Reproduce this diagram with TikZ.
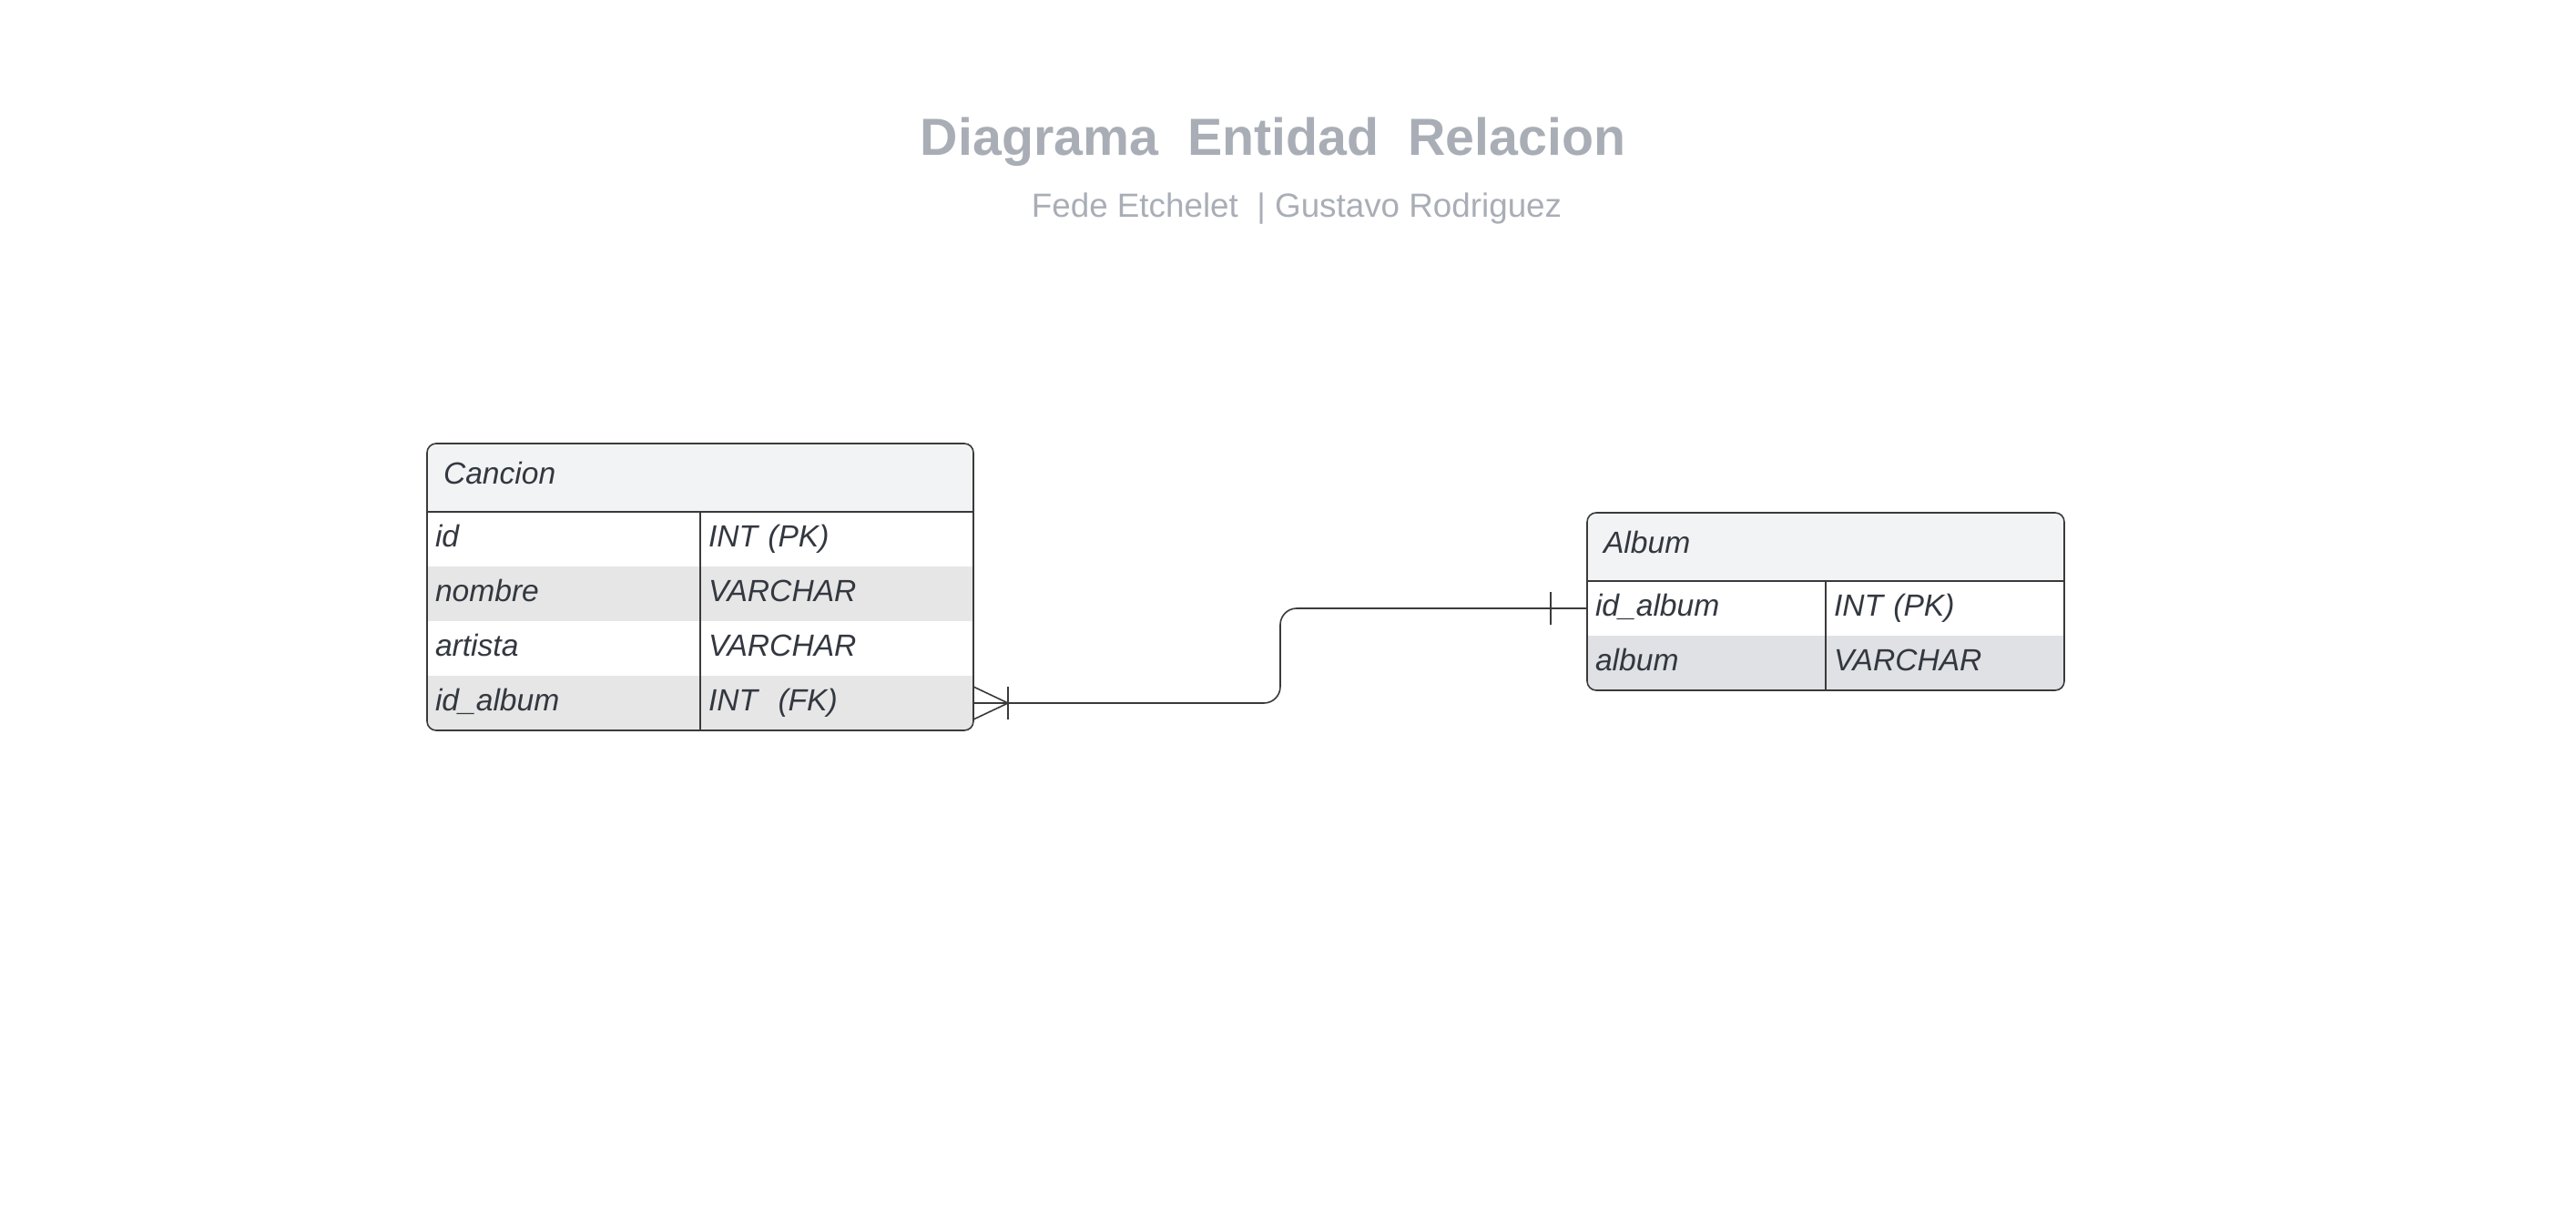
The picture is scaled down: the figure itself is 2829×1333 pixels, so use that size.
\documentclass[tikz,border=0pt]{standalone}
\usepackage{fontspec}
\setmainfont{Liberation Sans}
\usetikzlibrary{positioning,calc}

\definecolor{titlegrey}{HTML}{A9AEB6}
\definecolor{inkdark}{HTML}{333840}
\definecolor{linegrey}{HTML}{3A3A3A}
\definecolor{headfill}{HTML}{F2F3F4}
\definecolor{rowgrey}{HTML}{E6E6E6}
\definecolor{rowblue}{HTML}{DFE1E5}

\tikzset{every picture/.style={line width=1.2pt}}
\tikzset{
  celltext/.style={font=\fontsize{25.2}{29}\selectfont\itshape, text=inkdark,
    inner xsep=6.75pt, inner ysep=0pt, outer sep=0pt, anchor=north west,
    align=left, text height=22.8pt, text depth=10.4pt, minimum height=45pt},
  ccell/.style={celltext, text width=211.5pt},
  acell/.style={celltext, text width=183pt},
  headcell/.style={celltext, fill=headfill, inner xsep=13.5pt,
    minimum height=56.25pt, text depth=12.5pt},
  tableline/.style={draw=linegrey},
  relline/.style={draw=linegrey}
}

\begin{document}
\begin{tikzpicture}[x=0.75pt,y=0.75pt,yscale=-1,xscale=1]
	\useasboundingbox (0,0) rectangle (2829,1333);

	% Title
	\draw (1398,156) node (title) [font=\fontsize{43}{50}\selectfont\bfseries, text=titlegrey] {Diagrama\ \ Entidad\ \ Relacion};
	% Subtitle
	\draw (1424,229) node (authors) [font=\fontsize{27.6}{32}\selectfont, text=titlegrey] {Fede Etchelet\ \ | Gustavo Rodriguez};

	%Table: Cancion
	\begin{scope}
		\clip [rounded corners=7.5pt] (469,487) rectangle (1068,802);
		\node [headcell, text width=423pt] (cancion) at (469,487) {Cancion};
		\node [ccell, fill=white] (c-id) at (469,562) {id};
		\node [ccell, fill=white] (c-id-t) at (769,562) {INT (PK)};
		\node [ccell, fill=rowgrey] (c-nombre) at (469,622) {nombre};
		\node [ccell, fill=rowgrey] (c-nombre-t) at (769,622) {VARCHAR};
		\node [ccell, fill=white] (c-artista) at (469,682) {artista};
		\node [ccell, fill=white] (c-artista-t) at (769,682) {VARCHAR};
		\node [ccell, fill=rowgrey] (c-idalbum) at (469,742) {id\_album};
		\node [ccell, fill=rowgrey] (c-idalbum-t) at (769,742) {INT\ \ (FK)};
	\end{scope}
	\draw [tableline, rounded corners=7.5pt] (cancion.north west) rectangle (c-idalbum-t.south east);
	\draw [tableline] (cancion.south west) -- (cancion.south east);
	\draw [tableline] (c-id-t.north west) -- (c-idalbum-t.south west);

	%Table: Album
	\begin{scope}
		\clip [rounded corners=7.5pt] (1743,563) rectangle (2267,758);
		\node [headcell, text width=366pt] (album) at (1743,563) {Album};
		\node [acell, fill=white] (a-idalbum) at (1743,638) {id\_album};
		\node [acell, fill=white] (a-idalbum-t) at (2005,638) {INT (PK)};
		\node [acell, fill=rowblue] (a-album) at (1743,698) {album};
		\node [acell, fill=rowblue] (a-album-t) at (2005,698) {VARCHAR};
	\end{scope}
	\draw [tableline, rounded corners=7.5pt] (album.north west) rectangle (a-album-t.south east);
	\draw [tableline] (album.south west) -- (album.south east);
	\draw [tableline] (a-idalbum-t.north west) -- (a-album-t.south west);

	%Relation: many (Cancion) to one (Album)
	\draw [relline, rounded corners=13.5pt] (c-idalbum-t.east) -| ($(c-idalbum-t.east)!0.5!(a-idalbum.west)$) |- (a-idalbum.west);
	% crow's foot
	\draw [relline] ($(c-idalbum-t.east)+(0,-18)$) -- ($(c-idalbum-t.east)+(38,0)$) -- ($(c-idalbum-t.east)+(0,18)$);
	\draw [relline] ($(c-idalbum-t.east)+(38,-18)$) -- ($(c-idalbum-t.east)+(38,18)$);
	% one bar
	\draw [relline] ($(a-idalbum.west)+(-40,-18)$) -- ($(a-idalbum.west)+(-40,18)$);

\end{tikzpicture}
\end{document}
